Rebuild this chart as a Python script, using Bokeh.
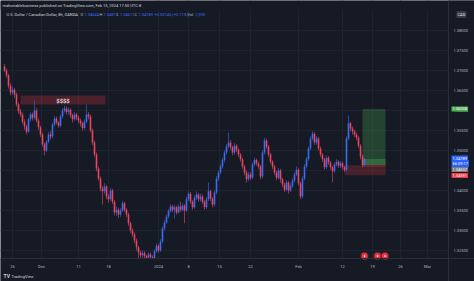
from bokeh.plotting import figure
from bokeh.models import ColumnDataSource, FixedTicker, PrintfTickFormatter, Label, Range1d, Span
from bokeh.embed import file_html
from bokeh.resources import INLINE
from bokeh.core.properties import value

# ---------------- data (USD/CAD, 8h, OANDA) ----------------
first_open = 1.3710
closes = [
    1.3700, 1.3688, 1.3662, 1.3645, 1.3652, 1.3640, 1.3615, 1.3598, 1.3590, 1.3572,
    1.3560, 1.3547, 1.3578, 1.3590, 1.3582, 1.3600, 1.3575, 1.3558, 1.3540, 1.3515,
    1.3500, 1.3522, 1.3540, 1.3535, 1.3565, 1.3580, 1.3570, 1.3562, 1.3585, 1.3600,
    1.3605, 1.3596, 1.3602, 1.3588, 1.3578, 1.3590, 1.3582, 1.3575, 1.3568, 1.3556,
    1.3572, 1.3590, 1.3585, 1.3550, 1.3520, 1.3490, 1.3455, 1.3430, 1.3405, 1.3398,
    1.3410, 1.3385, 1.3378, 1.3400, 1.3372, 1.3345, 1.3352, 1.3340, 1.3350, 1.3368,
    1.3352, 1.3340, 1.3318, 1.3300, 1.3290, 1.3275, 1.3258, 1.3245, 1.3238, 1.3244,
    1.3236, 1.3232, 1.3240, 1.3234, 1.3230, 1.3248, 1.3262, 1.3250, 1.3272, 1.3305,
    1.3320, 1.3335, 1.3348, 1.3360, 1.3352, 1.3358, 1.3345, 1.3360, 1.3352, 1.3362,
    1.3350, 1.3378, 1.3392, 1.3372, 1.3358, 1.3382, 1.3390, 1.3378, 1.3385, 1.3372,
    1.3358, 1.3378, 1.3398, 1.3380, 1.3365, 1.3395, 1.3430, 1.3445, 1.3460, 1.3476,
    1.3495, 1.3510, 1.3520, 1.3508, 1.3495, 1.3512, 1.3502, 1.3490, 1.3478, 1.3460,
    1.3445, 1.3428, 1.3440, 1.3432, 1.3465, 1.3476, 1.3468, 1.3460, 1.3435, 1.3495,
    1.3525, 1.3510, 1.3490, 1.3472, 1.3460, 1.3445, 1.3432, 1.3450, 1.3428, 1.3415,
    1.3402, 1.3420, 1.3400, 1.3412, 1.3425, 1.3440, 1.3452, 1.3418, 1.3385, 1.3430,
    1.3460, 1.3478, 1.3505, 1.3530, 1.3542, 1.3520, 1.3530, 1.3505, 1.3490, 1.3478,
    1.3458, 1.3482, 1.3470, 1.3458, 1.3448, 1.3465, 1.3472, 1.3462, 1.3468, 1.3458,
    1.3452, 1.3530, 1.3568, 1.3555, 1.3548, 1.3540, 1.3532, 1.3512, 1.3485, 1.3464,
    1.34789,
]
highs = [
    1.3716, 1.3705, 1.3692, 1.3668, 1.3660, 1.3656, 1.3645, 1.3620, 1.3604, 1.3595,
    1.3578, 1.3565, 1.3582, 1.3596, 1.3595, 1.3625, 1.3606, 1.3580, 1.3562, 1.3545,
    1.3520, 1.3526, 1.3546, 1.3548, 1.3570, 1.3586, 1.3585, 1.3574, 1.3590, 1.3606,
    1.3612, 1.3610, 1.3608, 1.3606, 1.3592, 1.3596, 1.3594, 1.3588, 1.3580, 1.3572,
    1.3578, 1.3615, 1.3596, 1.3590, 1.3555, 1.3525, 1.3495, 1.3460, 1.3435, 1.3412,
    1.3418, 1.3414, 1.3392, 1.3406, 1.3404, 1.3376, 1.3360, 1.3357, 1.3356, 1.3374,
    1.3372, 1.3356, 1.3345, 1.3322, 1.3306, 1.3295, 1.3280, 1.3262, 1.3250, 1.3250,
    1.3248, 1.3240, 1.3246, 1.3245, 1.3238, 1.3254, 1.3268, 1.3266, 1.3278, 1.3310,
    1.3326, 1.3340, 1.3354, 1.3366, 1.3364, 1.3365, 1.3362, 1.3366, 1.3372, 1.3368,
    1.3366, 1.3384, 1.3398, 1.3396, 1.3376, 1.3388, 1.3398, 1.3394, 1.3392, 1.3390,
    1.3376, 1.3384, 1.3420, 1.3402, 1.3384, 1.3400, 1.3436, 1.3450, 1.3466, 1.3482,
    1.3500, 1.3516, 1.3545, 1.3526, 1.3512, 1.3518, 1.3516, 1.3506, 1.3494, 1.3482,
    1.3464, 1.3450, 1.3446, 1.3445, 1.3470, 1.3482, 1.3480, 1.3472, 1.3464, 1.3500,
    1.3532, 1.3530, 1.3514, 1.3494, 1.3476, 1.3464, 1.3450, 1.3456, 1.3454, 1.3432,
    1.3420, 1.3426, 1.3424, 1.3418, 1.3430, 1.3446, 1.3460, 1.3456, 1.3422, 1.3436,
    1.3466, 1.3484, 1.3510, 1.3536, 1.3548, 1.3546, 1.3536, 1.3534, 1.3510, 1.3494,
    1.3482, 1.3488, 1.3486, 1.3474, 1.3462, 1.3470, 1.3478, 1.3476, 1.3474, 1.3472,
    1.3462, 1.3536, 1.35875, 1.3572, 1.3560, 1.3552, 1.3545, 1.3536, 1.3516, 1.3490,
    1.34817,
]
lows = [
    1.3696, 1.3682, 1.3655, 1.3638, 1.3640, 1.3632, 1.3610, 1.3592, 1.3584, 1.3566,
    1.3552, 1.3540, 1.3544, 1.3572, 1.3575, 1.3578, 1.3570, 1.3552, 1.3534, 1.3510,
    1.3488, 1.3496, 1.3518, 1.3528, 1.3530, 1.3560, 1.3565, 1.3556, 1.3558, 1.3580,
    1.3595, 1.3590, 1.3590, 1.3582, 1.3570, 1.3574, 1.3576, 1.3568, 1.3560, 1.3550,
    1.3552, 1.3568, 1.3578, 1.3545, 1.3514, 1.3484, 1.3448, 1.3424, 1.3398, 1.3365,
    1.3392, 1.3378, 1.3370, 1.3374, 1.3366, 1.3338, 1.3336, 1.3332, 1.3334, 1.3346,
    1.3346, 1.3334, 1.3312, 1.3294, 1.3284, 1.3268, 1.3250, 1.3220, 1.3230, 1.3232,
    1.3228, 1.3225, 1.3226, 1.3226, 1.3222, 1.3226, 1.3244, 1.3244, 1.3246, 1.3268,
    1.3300, 1.3316, 1.3330, 1.3344, 1.3346, 1.3330, 1.3340, 1.3342, 1.3346, 1.3348,
    1.3318, 1.3346, 1.3374, 1.3366, 1.3352, 1.3354, 1.3376, 1.3372, 1.3372, 1.3366,
    1.3352, 1.3354, 1.3374, 1.3374, 1.3358, 1.3360, 1.3390, 1.3424, 1.3440, 1.3455,
    1.3470, 1.3490, 1.3505, 1.3502, 1.3488, 1.3490, 1.3496, 1.3484, 1.3472, 1.3454,
    1.3438, 1.3420, 1.3424, 1.3426, 1.3428, 1.3460, 1.3462, 1.3454, 1.3428, 1.3430,
    1.3490, 1.3504, 1.3484, 1.3466, 1.3454, 1.3438, 1.3426, 1.3428, 1.3420, 1.3408,
    1.3396, 1.3398, 1.3392, 1.3396, 1.3406, 1.3420, 1.3436, 1.3412, 1.3378, 1.3380,
    1.3425, 1.3455, 1.3474, 1.3500, 1.3525, 1.3514, 1.3515, 1.3500, 1.3484, 1.3472,
    1.3452, 1.3454, 1.3464, 1.3452, 1.3420, 1.3444, 1.3460, 1.3456, 1.3456, 1.3452,
    1.3446, 1.3448, 1.3525, 1.3548, 1.3540, 1.3534, 1.3526, 1.3506, 1.3478, 1.3458,
    1.34611,
]
opens = [first_open] + closes[:-1]
bars = list(range(len(closes)))

tick_bars = [4.0, 18.5, 37.0, 52.0, 77.0, 92.0, 107.5, 123.0, 147.0, 169.0, 184.0, 198.0, 211.5]
tick_labels = ["26", "Dec", "11", "18", "2024", "8", "15", "22", "Feb", "12", "19", "26", "Mar"]
price_ticks = [1.325, 1.330, 1.335, 1.340, 1.345, 1.350, 1.355, 1.360, 1.365, 1.370, 1.375, 1.380]

# drawings on the chart
liq_zone = dict(left=8, right=50.5, bottom=1.3615, top=1.36375, label="$$$$")
demand_zone = dict(left=170, right=190.5, bottom=1.3438, top=1.3463)
entry_price = 1.34637
target_price = 1.36038
stop_price = 1.34591
last_price = 1.34789
position_left, position_right = 179, 190.5
event_bars = [180, 186.5, 190.25]

# chart pane extent (in bars / price) inside the whole canvas
PANE_RIGHT = 222.0
PANE_TOP = 1.38525
PANE_BOTTOM = 1.323

# ---------------- styling ----------------
W, H = 474, 281
BG = "#161A25"
GRID = "#1F2330"
TXT = "#B2B5BE"
UP = "#3B6CF2"
DOWN = "#EE4461"
FONT = "Roboto"

x0, x1 = -2.0, 235.0
y0, y1 = 1.31725, 1.3875
p = figure(width=W, height=H, x_range=Range1d(x0, x1), y_range=Range1d(y0, y1),
           output_backend="svg", toolbar_location=None, y_axis_location="right",
           min_border_left=0, min_border_right=0, min_border_top=0, min_border_bottom=0,
           background_fill_color=BG, border_fill_color=BG, outline_line_color=None)

# axes (drawn inside the canvas, over the pane borders)
p.xaxis.ticker = FixedTicker(ticks=tick_bars)
p.xaxis.major_label_overrides = {t: l for t, l in zip(tick_bars, tick_labels)}
p.yaxis.ticker = FixedTicker(ticks=price_ticks)
p.yaxis.formatter = PrintfTickFormatter(format="%.5f")
for ax in (p.xaxis, p.yaxis):
    ax.major_tick_line_color = None
    ax.minor_tick_line_color = None
    ax.major_tick_out = 0
    ax.major_tick_in = 0
    ax.minor_tick_out = 0
    ax.minor_tick_in = 0
    ax.axis_line_color = None
    ax.major_label_text_color = TXT
    ax.major_label_text_font_size = "4px"
    ax.major_label_text_font = FONT
p.xaxis.major_label_standoff = -18
p.yaxis.major_label_standoff = -21
p.xgrid.ticker = FixedTicker(ticks=tick_bars)
p.ygrid.ticker = FixedTicker(ticks=price_ticks)
p.xgrid.grid_line_color = GRID
p.ygrid.grid_line_color = GRID

# zones
p.quad(left=[liq_zone["left"]], right=[liq_zone["right"]], bottom=[liq_zone["bottom"]], top=[liq_zone["top"]],
       fill_color="#F23645", fill_alpha=0.25, line_color=None)
p.text(x=[(liq_zone["left"] + liq_zone["right"]) / 2], y=[(liq_zone["bottom"] + liq_zone["top"]) / 2],
       text=[liq_zone["label"]], text_color="#FFFFFF", text_font_size="6px", text_font=value(FONT),
       text_align="center", text_baseline="middle")
p.quad(left=[demand_zone["left"]], right=[demand_zone["right"]], bottom=[demand_zone["bottom"]],
       top=[demand_zone["top"]], fill_color="#F23645", fill_alpha=0.22, line_color=None)
p.quad(left=[position_left], right=[position_right], bottom=[entry_price], top=[target_price],
       fill_color="#4CAF50", fill_alpha=0.28, line_color=None)
p.quad(left=[position_left], right=[position_right], bottom=[entry_price], top=[last_price],
       fill_color="#4CAF50", fill_alpha=0.35, line_color=None)
p.quad(left=[position_left], right=[position_right], bottom=[stop_price], top=[entry_price],
       fill_color="#F23645", fill_alpha=0.3, line_color=None)

# candles
colors = [UP if c >= o else DOWN for o, c in zip(opens, closes)]
src = ColumnDataSource(dict(x=bars, high=highs, low=lows,
                            top=[max(o, c) for o, c in zip(opens, closes)],
                            bottom=[min(o, c) for o, c in zip(opens, closes)],
                            color=colors))
p.segment(x0="x", y0="high", x1="x", y1="low", line_color="color", line_width=0.6, source=src)
p.vbar(x="x", width=0.8, top="top", bottom="bottom", fill_color="color", line_color=None, source=src)

# covers for the price scale, time scale and header strip (pane clipping)
p.quad(left=[x0, PANE_RIGHT, x0], right=[x1, x1, x1], bottom=[y0, y0, PANE_TOP], top=[PANE_BOTTOM, y1, y1],
       fill_color=BG, line_color=None)
p.add_layout(Span(location=PANE_RIGHT, dimension="height", line_color="#2A2E39", line_width=1))
p.add_layout(Span(location=PANE_BOTTOM, dimension="width", line_color="#2A2E39", line_width=1))

# event markers near the bottom of the pane
ev_y = [PANE_BOTTOM + 0.0006] * len(event_bars)
p.scatter(x=event_bars, y=ev_y, size=6, fill_color="#F23645", line_color="#F23645", line_alpha=0.4,
          line_width=2)
p.scatter(x=event_bars, y=ev_y, size=1.6, fill_color="#FFFFFF", line_color=None)


# ---------------- text annotations (screen units, canvas based) ----------------
def lab(x, cy, text, color=TXT, size="4px", bg=None, align="left", bold=False, y=None):
    kw = dict(x=x, y=(H - cy) if y is None else y, x_units="screen",
              y_units="screen" if y is None else "data", text=text, text_color=color,
              text_font_size=size, text_font=FONT, text_align=align, text_baseline="middle",
              text_font_style="bold" if bold else "normal")
    if bg is not None:
        kw.update(background_fill_color=bg, padding=1)
    p.add_layout(Label(**kw))


lab(2, 4.5, "realnotablebusiness published on TradingView.com, Feb 15, 2024 17:50 UTC-8", color="#D1D4DC")
lab(6, 14, "U.S. Dollar / Canadian Dollar, 8h, OANDA", color="#D1D4DC")
legend = [("O", 80, TXT), ("1.34644", 84, UP), ("H", 99, TXT), ("1.34817", 103, UP),
          ("L", 116, TXT), ("1.34611", 119.5, UP), ("C", 134, TXT), ("1.34789", 138, UP),
          ("+0.00145 (+0.11%)", 154, UP), ("Vol", 187, TXT), ("2,590", 195, UP)]
for t, x, c in legend:
    lab(x, 14, t, color=c)

lab(456, 14, "CAD", color="#E0E3EB", bg="#363A45")

# price-scale labels
lab(451, 0, "1.36038", color="#FFFFFF", bg="#4CAF50", y=target_price)
lab(451, 157.5, "1.34789", color="#FFFFFF", bg="#2962FF")
lab(451, 163, "66:09:17", color="#FFFFFF", bg="#2962FF")
lab(451, 169, "1.34637", color="#FFFFFF", bg="#787B86")
lab(451, 175, "1.34591", color="#FFFFFF", bg="#F23645")

# footer
lab(3, 275.5, "TV", color="#D1D4DC", size="5px", bold=True)
lab(11, 275.5, "TradingView", color="#D1D4DC", size="4px")

open("out.html", "w").write(file_html(p, INLINE))
